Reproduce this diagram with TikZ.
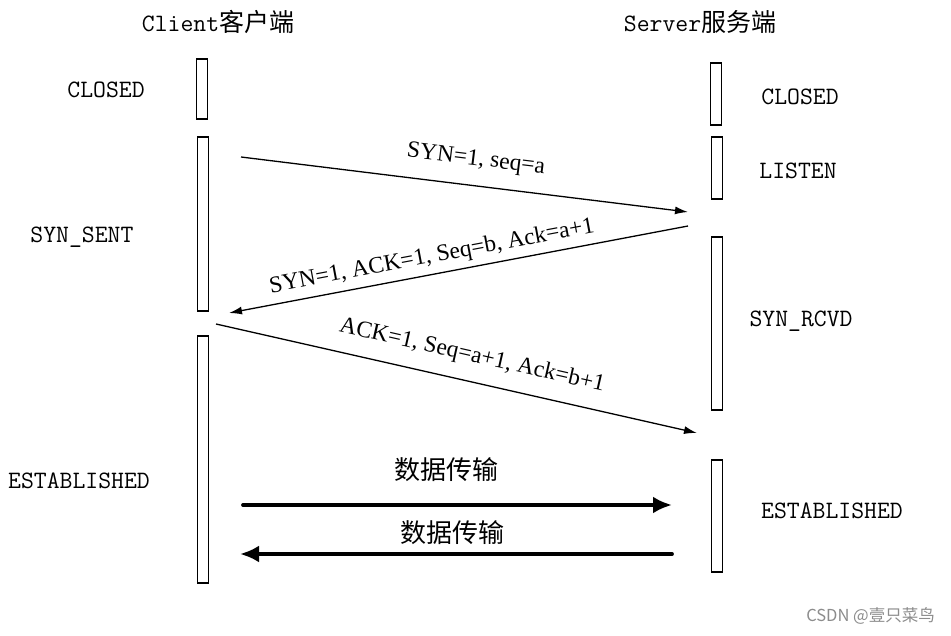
\documentclass[tikz,border=0pt]{standalone}
\usepackage{fontspec}
\setmainfont{Liberation Serif}
\newfontfamily\cjk{Noto Sans CJK SC}
\usetikzlibrary{arrows.meta}
\begin{document}
\begin{tikzpicture}[x=1pt,y=-1pt,
  lifebox/.style={draw,line width=1.8pt,minimum width=11pt,inner sep=0pt},
  statelbl/.style={font=\fontsize{25}{28}\selectfont\ttfamily,inner sep=0pt},
  titlelbl/.style={font=\fontsize{25}{28}\selectfont\ttfamily,inner sep=0pt},
  msglbl/.style={font=\fontsize{23.5}{26}\selectfont,inner sep=0pt},
  msgarrow/.style={line width=1.3pt,-{Latex[length=13pt,width=8pt]}},
  dataarrow/.style={line width=3.8pt,line cap=round,-{Latex[length=19pt,width=17pt]}},
  datalbl/.style={font=\fontsize{26}{30}\selectfont\cjk,inner sep=0pt}]
\useasboundingbox (0,0) rectangle (951,636);
\fill[white] (0,0) rectangle (951,636);

% titles
\node[titlelbl] (tc) at (218,22) {Client{\cjk 客户端}};
\node[titlelbl] (ts) at (700,22) {Server{\cjk 服务端}};

% client lifeline boxes
\node[lifebox,minimum height=60pt] (c1) at (202,89) {};
\node[lifebox,minimum height=174pt] (c2) at (203,224) {};
\node[lifebox,minimum height=247pt] (c3) at (203,459.5) {};
% server lifeline boxes
\node[lifebox,minimum height=62pt] (s1) at (716,94) {};
\node[lifebox,minimum height=62pt] (s2) at (717,168) {};
\node[lifebox,minimum height=173pt] (s3) at (717,323.5) {};
\node[lifebox,minimum height=112pt] (s4) at (717,516) {};

% state labels
\node[statelbl] (lc1) at (106,90) {CLOSED};
\node[statelbl] (lc2) at (82,237) {SYN\_SENT};
\node[statelbl] (lc3) at (79,481) {ESTABLISHED};
\node[statelbl] (ls1) at (800,97) {CLOSED};
\node[statelbl] (ls2) at (798,171) {LISTEN};
\node[statelbl] (ls3) at (801,321) {SYN\_RCVD};
\node[statelbl] (ls4) at (832,511) {ESTABLISHED};

% message endpoints
\coordinate (m1a) at (241,157);
\coordinate (m1b) at (688,212);
\coordinate (m2a) at (688,226);
\coordinate (m2b) at (229,313);
\coordinate (m3a) at (216,324);
\coordinate (m3b) at (697,433);
\coordinate (d1a) at (243,505);
\coordinate (d1b) at (672,505);
\coordinate (d2a) at (672,554);
\coordinate (d2b) at (240,554);

\draw[msgarrow] (m1a) -- (m1b);
\draw[msgarrow] (m2a) -- (m2b);
\draw[msgarrow] (m3a) -- (m3b);
\draw[dataarrow] (d1a) -- (d1b);
\draw[dataarrow] (d2a) -- (d2b);

% message labels
\node[msglbl,rotate=-7] (t1) at (476,160) {SYN=1, seq=a};
\node[msglbl,rotate=10.7] (t2) at (432,257) {SYN=1, ACK=1, Seq=b, Ack=a+1};
\node[msglbl,rotate=-12.8] (t3) at (472,356) {ACK=1, Seq=a+1, Ack=b+1};
\node[datalbl] (t4) at (446,470) {数据传输};
\node[datalbl] (t5) at (452,533) {数据传输};

% watermark
\node[font=\fontsize{16.5}{18}\selectfont\cjk,text=black!45,inner sep=0pt,anchor=east] (wm) at (935,616) {CSDN @壹只菜鸟};
\end{tikzpicture}
\end{document}
